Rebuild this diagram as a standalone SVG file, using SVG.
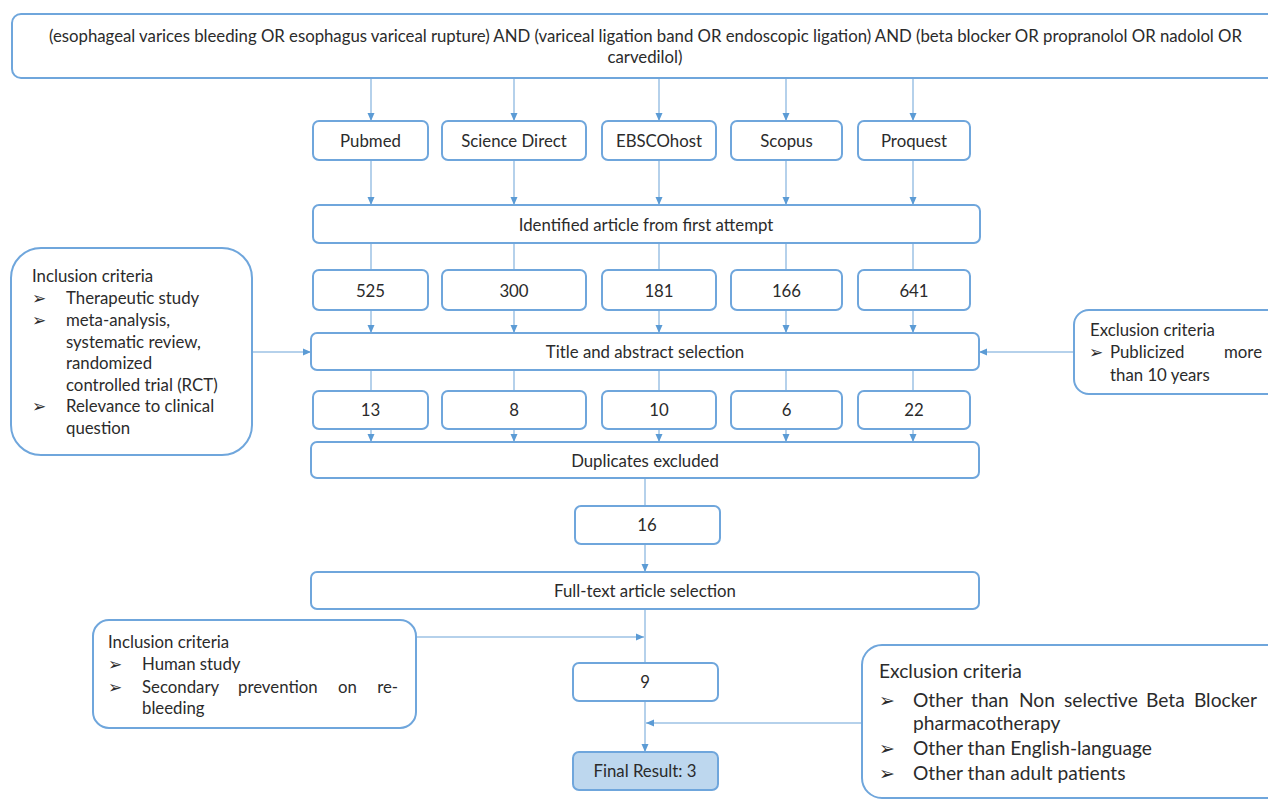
<svg xmlns="http://www.w3.org/2000/svg" width="1268" height="800" viewBox="0 0 1268 800">
<style>
.box{fill:#ffffff;stroke:#6fa6dc;stroke-width:2}
.final{fill:#bdd7ee}
.t{font-family:Lato,"Liberation Sans",sans-serif;font-size:16.8px;fill:#2b2b2b}
.big{font-size:19.2px}
.c{text-anchor:middle}
.e{text-anchor:end}
.bl{font-family:"DejaVu Sans",sans-serif;font-size:17px;font-weight:bold;fill:#2b2b2b}
.blb{font-size:19px}
.ln{stroke:#9cc2e5;stroke-width:1.5;fill:none}
</style>
<defs>
<marker id="ah" viewBox="0 0 8 8" refX="8" refY="4" markerWidth="8" markerHeight="8" markerUnits="userSpaceOnUse" orient="auto">
<path d="M0,0.5 L8,4 L0,7.5 z" fill="#5b9bd5"/>
</marker>
</defs>
<rect width="1268" height="800" fill="#ffffff"/>

<g id="connectors">
<line class="ln" x1="371" y1="78" x2="371" y2="121" marker-end="url(#ah)"/>
<line class="ln" x1="514" y1="78" x2="514" y2="121" marker-end="url(#ah)"/>
<line class="ln" x1="659" y1="78" x2="659" y2="121" marker-end="url(#ah)"/>
<line class="ln" x1="786" y1="78" x2="786" y2="121" marker-end="url(#ah)"/>
<line class="ln" x1="913" y1="78" x2="913" y2="121" marker-end="url(#ah)"/>

<line class="ln" x1="371" y1="160" x2="371" y2="205" marker-end="url(#ah)"/>
<line class="ln" x1="514" y1="160" x2="514" y2="205" marker-end="url(#ah)"/>
<line class="ln" x1="659" y1="160" x2="659" y2="205" marker-end="url(#ah)"/>
<line class="ln" x1="786" y1="160" x2="786" y2="205" marker-end="url(#ah)"/>
<line class="ln" x1="913" y1="160" x2="913" y2="205" marker-end="url(#ah)"/>

<line class="ln" x1="371" y1="243" x2="371" y2="270"/>
<line class="ln" x1="514" y1="243" x2="514" y2="270"/>
<line class="ln" x1="659" y1="243" x2="659" y2="270"/>
<line class="ln" x1="786" y1="243" x2="786" y2="270"/>
<line class="ln" x1="913" y1="243" x2="913" y2="270"/>

<line class="ln" x1="371" y1="310" x2="371" y2="333" marker-end="url(#ah)"/>
<line class="ln" x1="514" y1="310" x2="514" y2="333" marker-end="url(#ah)"/>
<line class="ln" x1="659" y1="310" x2="659" y2="333" marker-end="url(#ah)"/>
<line class="ln" x1="786" y1="310" x2="786" y2="333" marker-end="url(#ah)"/>
<line class="ln" x1="913" y1="310" x2="913" y2="333" marker-end="url(#ah)"/>

<line class="ln" x1="371" y1="370" x2="371" y2="391"/>
<line class="ln" x1="514" y1="370" x2="514" y2="391"/>
<line class="ln" x1="659" y1="370" x2="659" y2="391"/>
<line class="ln" x1="786" y1="370" x2="786" y2="391"/>
<line class="ln" x1="913" y1="370" x2="913" y2="391"/>

<line class="ln" x1="371" y1="429" x2="371" y2="442" marker-end="url(#ah)"/>
<line class="ln" x1="514" y1="429" x2="514" y2="442" marker-end="url(#ah)"/>
<line class="ln" x1="659" y1="429" x2="659" y2="442" marker-end="url(#ah)"/>
<line class="ln" x1="786" y1="429" x2="786" y2="442" marker-end="url(#ah)"/>
<line class="ln" x1="913" y1="429" x2="913" y2="442" marker-end="url(#ah)"/>

<line class="ln" x1="645" y1="478" x2="645" y2="506"/>
<line class="ln" x1="645" y1="544" x2="645" y2="572" marker-end="url(#ah)"/>
<line class="ln" x1="645" y1="609" x2="645" y2="663"/>
<line class="ln" x1="645" y1="701" x2="645" y2="752" marker-end="url(#ah)"/>

<line class="ln" x1="252" y1="352" x2="311" y2="352" marker-end="url(#ah)"/>
<line class="ln" x1="1074" y1="352" x2="979" y2="352" marker-end="url(#ah)"/>
<line class="ln" x1="416" y1="637" x2="644" y2="637" marker-end="url(#ah)"/>
<line class="ln" x1="862" y1="723" x2="646" y2="723" marker-end="url(#ah)"/>
</g>

<g id="query">
<rect class="box" x="12" y="14" width="1270" height="64" rx="9"/>
<text class="t c" x="645.5" y="42" textLength="1193">(esophageal varices bleeding OR esophagus variceal rupture) AND (variceal ligation band OR endoscopic ligation) AND (beta blocker OR propranolol OR nadolol OR</text>
<text class="t c" x="645" y="63">carvedilol)</text>
</g>

<g id="db-pubmed"><rect class="box" x="313" y="121" width="115" height="39" rx="6"/><text class="t c" x="370.5" y="147">Pubmed</text></g>
<g id="db-sciencedirect"><rect class="box" x="442" y="121" width="144" height="39" rx="6"/><text class="t c" x="514" y="147">Science Direct</text></g>
<g id="db-ebsco"><rect class="box" x="602" y="121" width="114" height="39" rx="6"/><text class="t c" x="659" y="147">EBSCOhost</text></g>
<g id="db-scopus"><rect class="box" x="731" y="121" width="111" height="39" rx="6"/><text class="t c" x="786.5" y="147">Scopus</text></g>
<g id="db-proquest"><rect class="box" x="858" y="121" width="112" height="39" rx="6"/><text class="t c" x="914" y="147">Proquest</text></g>

<g id="identified"><rect class="box" x="313" y="205" width="667" height="38" rx="6"/><text class="t c" x="646" y="231">Identified article from first attempt</text></g>

<g id="n-525"><rect class="box" x="313" y="270" width="115" height="40" rx="6"/><text class="t c" x="370.5" y="297">525</text></g>
<g id="n-300"><rect class="box" x="442" y="270" width="144" height="40" rx="6"/><text class="t c" x="514" y="297">300</text></g>
<g id="n-181"><rect class="box" x="602" y="270" width="114" height="40" rx="6"/><text class="t c" x="659" y="297">181</text></g>
<g id="n-166"><rect class="box" x="731" y="270" width="111" height="40" rx="6"/><text class="t c" x="786.5" y="297">166</text></g>
<g id="n-641"><rect class="box" x="858" y="270" width="112" height="40" rx="6"/><text class="t c" x="914" y="297">641</text></g>

<g id="title-abstract"><rect class="box" x="311" y="333" width="668" height="37" rx="6"/><text class="t c" x="645" y="358">Title and abstract selection</text></g>

<g id="n-13"><rect class="box" x="313" y="391" width="115" height="38" rx="6"/><text class="t c" x="370.5" y="416">13</text></g>
<g id="n-8"><rect class="box" x="442" y="391" width="144" height="38" rx="6"/><text class="t c" x="514" y="416">8</text></g>
<g id="n-10"><rect class="box" x="602" y="391" width="114" height="38" rx="6"/><text class="t c" x="659" y="416">10</text></g>
<g id="n-6"><rect class="box" x="731" y="391" width="111" height="38" rx="6"/><text class="t c" x="786.5" y="416">6</text></g>
<g id="n-22"><rect class="box" x="858" y="391" width="112" height="38" rx="6"/><text class="t c" x="914" y="416">22</text></g>

<g id="duplicates"><rect class="box" x="311" y="442" width="668" height="36" rx="6"/><text class="t c" x="645" y="467">Duplicates excluded</text></g>
<g id="n-16"><rect class="box" x="575" y="506" width="145" height="38" rx="6"/><text class="t c" x="647" y="531">16</text></g>
<g id="fulltext"><rect class="box" x="311" y="572" width="668" height="37" rx="6"/><text class="t c" x="645" y="597">Full-text article selection</text></g>
<g id="n-9"><rect class="box" x="573" y="663" width="145" height="38" rx="6"/><text class="t c" x="645" y="688">9</text></g>
<g id="final"><rect class="box final" x="573" y="752" width="145" height="38" rx="6"/><text class="t c" x="645" y="777">Final Result: 3</text></g>

<g id="inclusion-1">
<rect class="box" x="11" y="248" width="241" height="207" rx="30"/>
<text class="t" x="32" y="282">Inclusion criteria</text>
<text class="bl" x="32" y="304">➢</text><text class="t" x="66" y="304">Therapeutic study</text>
<text class="bl" x="32" y="326">➢</text><text class="t" x="66" y="326">meta-analysis,</text>
<text class="t" x="66" y="348">systematic review,</text>
<text class="t" x="66" y="369">randomized</text>
<text class="t" x="66" y="391">controlled trial (RCT)</text>
<text class="bl" x="32" y="412">➢</text><text class="t" x="66" y="412">Relevance to clinical</text>
<text class="t" x="66" y="434">question</text>
</g>

<g id="exclusion-1">
<rect class="box" x="1074" y="310" width="210" height="84" rx="15"/>
<text class="t" x="1090" y="336">Exclusion criteria</text>
<text class="bl" x="1089" y="358">➢</text><text class="t" x="1110" y="358">Publicized</text><text class="t e" x="1262" y="358">more</text>
<text class="t" x="1110" y="381">than 10 years</text>
</g>

<g id="inclusion-2">
<rect class="box" x="93" y="620" width="323" height="108" rx="16"/>
<text class="t" x="108" y="648">Inclusion criteria</text>
<text class="bl" x="108" y="670">➢</text><text class="t" x="142" y="670">Human study</text>
<text class="bl" x="108" y="693">➢</text><text class="t" x="142" y="693">Secondary</text><text class="t" x="238" y="693">prevention</text><text class="t" x="338" y="693">on</text><text class="t e" x="398" y="693">re-</text>
<text class="t" x="142" y="714">bleeding</text>
</g>

<g id="exclusion-2">
<rect class="box" x="862" y="645" width="424" height="153" rx="20"/>
<text class="t big" x="879" y="678">Exclusion criteria</text>
<text class="bl blb" x="879" y="707">➢</text><text class="t big" x="913" y="707">Other</text><text class="t big" x="971" y="707">than</text><text class="t big" x="1019" y="707">Non</text><text class="t big" x="1064" y="707">selective</text><text class="t big" x="1146" y="707">Beta</text><text class="t big e" x="1257" y="707">Blocker</text>
<text class="t big" x="913" y="730">pharmacotherapy</text>
<text class="bl blb" x="879" y="755">➢</text><text class="t big" x="913" y="755">Other than English-language</text>
<text class="bl blb" x="879" y="780">➢</text><text class="t big" x="913" y="780">Other than adult patients</text>
</g>
</svg>
